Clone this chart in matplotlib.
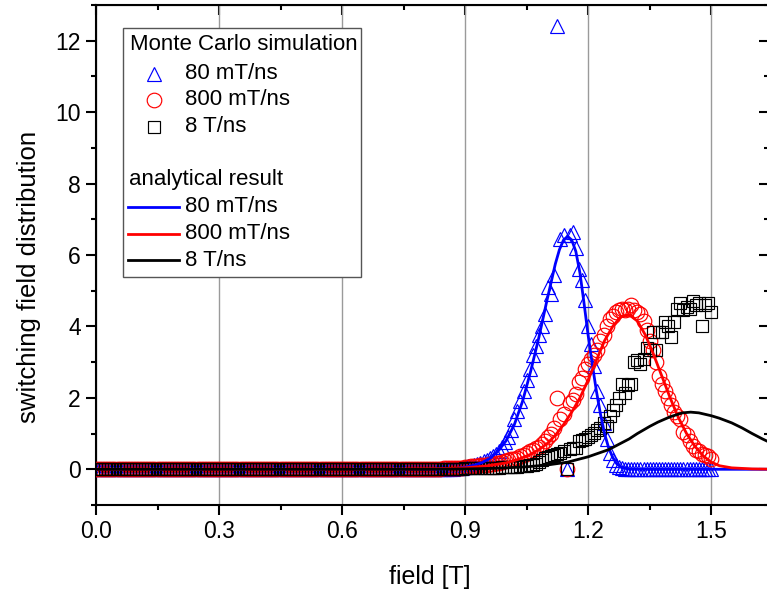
import numpy as np
import matplotlib
matplotlib.use("Agg")
import matplotlib.pyplot as plt
from matplotlib.lines import Line2D
from matplotlib.patches import Rectangle
from matplotlib.ticker import MultipleLocator

plt.rcParams['font.family'] = ['Liberation Sans', 'DejaVu Sans']

# ---------------- data ----------------
# Monte Carlo sampling grid (step read as ~7.5 mT from 0 to 1.5 T)
mc_step = 0.0075
n_base = 112                 # points 0 ... 0.8325 T sit at zero
mc_field = np.round(np.arange(0, 201) * mc_step, 4)

mc_80_tail = [0.0, 0.01, 0.01, 0.02, 0.02, 0.03, 0.04, 0.05, 0.06, 0.08,
              0.10, 0.12, 0.15, 0.18, 0.22, 0.26, 0.31, 0.37, 0.44, 0.52,
              0.62, 0.76, 0.90, 1.10, 1.40, 1.62, 1.90, 2.20, 2.50, 2.80,
              3.20, 3.45, 3.75, 4.00, 4.35, 5.10, 4.90, 5.45, 12.4, 6.45,
              6.55, 0.0, 6.55, 6.65, 6.20, 5.60, 5.30, 4.75, 4.00, 3.50,
              2.90, 2.20, 1.80, 1.30, 0.85, 0.45, 0.25, 0.12, 0.06, 0.03,
              0.02, 0.0, 0.0, 0.0, 0.0, 0.0, 0.0, 0.0, 0.0, 0.0,
              0.0, 0.0, 0.0, 0.0, 0.0, 0.0, 0.0, 0.0, 0.0, 0.0,
              0.0, 0.0, 0.0, 0.0, 0.0, 0.0, 0.0, 0.0, 0.0]

mc_800_tail = [0.02, 0.03, 0.03, 0.03, 0.04, 0.04, 0.05, 0.05, 0.06, 0.07,
               0.08, 0.09, 0.10, 0.11, 0.12, 0.13, 0.14, 0.15, 0.17, 0.18,
               0.20, 0.22, 0.25, 0.28, 0.30, 0.32, 0.36, 0.40, 0.45, 0.50,
               0.55, 0.60, 0.62, 0.70, 0.80, 0.90, 1.00, 1.15, 2.00, 1.40,
               1.55, 0.0, 1.85, 1.95, 2.10, 2.45, 2.55, 2.80, 2.95, 3.10,
               3.20, 3.35, 3.60, 3.75, 4.00, 4.20, 4.30, 4.40, 4.45, 4.50,
               4.45, 4.50, 4.60, 4.45, 4.40, 4.35, 4.15, 3.90, 3.60, 3.35,
               3.00, 2.60, 2.40, 2.20, 2.00, 1.80, 1.60, 1.50, 1.40, 1.05,
               0.95, 0.80, 0.65, 0.55, 0.50, 0.44, 0.40, 0.36, 0.30]

mc_8T_tail = [0.0, 0.01, 0.01, 0.01, 0.02, 0.02, 0.02, 0.02, 0.03, 0.03,
              0.03, 0.03, 0.04, 0.04, 0.04, 0.04, 0.05, 0.05, 0.05, 0.05,
              0.06, 0.06, 0.06, 0.06, 0.07, 0.07, 0.08, 0.09, 0.10, 0.11,
              0.13, 0.16, 0.20, 0.25, 0.32, 0.34, 0.37, 0.40, 0.42, 0.47,
              0.50, 0.0, 0.58, 0.60, 0.60, 0.78, 0.82, 0.85, 0.90, 0.97,
              1.02, 1.10, 1.15, 1.30, 1.20, 1.50, 1.65, 1.80, 2.00, 2.40,
              2.15, 2.35, 2.40, 3.00, 3.05, 2.95, 3.10, 3.40, 3.35, 3.85,
              3.35, 3.85, 3.85, 4.12, 4.00, 3.70, 4.12, 4.50, 4.65, 4.45,
              4.55, 4.50, 4.70, 4.60, 4.65, 4.00, 4.60, 4.65, 4.40]

mc_80 = np.array([0.0] * n_base + mc_80_tail)
mc_800 = np.array([0.0] * n_base + mc_800_tail)
mc_8T = np.array([0.0] * n_base + mc_8T_tail)

# analytical results
an_80_x = [0.0, 0.80, 0.85, 0.88, 0.90, 0.92, 0.94, 0.96, 0.98, 1.00, 1.02, 1.04,
           1.06, 1.08, 1.10, 1.12, 1.13, 1.14, 1.15, 1.16, 1.17, 1.18, 1.19,
           1.20, 1.21, 1.22, 1.23, 1.24, 1.25, 1.26, 1.27, 1.28, 1.30, 1.33, 1.66]
an_80_y = [0.0, 0.0, 0.01, 0.03, 0.06, 0.11, 0.18, 0.30, 0.50, 0.80, 1.25, 1.90,
           2.75, 3.70, 4.75, 5.75, 6.15, 6.42, 6.52, 6.42, 6.10, 5.50, 4.65,
           3.75, 2.95, 2.20, 1.55, 1.00, 0.60, 0.33, 0.15, 0.06, 0.01, 0.0, 0.0]

an_800_x = [0.0, 0.70, 0.80, 0.85, 0.90, 0.95, 1.00, 1.03, 1.06, 1.08, 1.10, 1.12,
            1.14, 1.16, 1.18, 1.20, 1.22, 1.24, 1.26, 1.28, 1.30, 1.32, 1.34,
            1.36, 1.38, 1.40, 1.42, 1.44, 1.46, 1.48, 1.50, 1.52, 1.55, 1.60, 1.66]
an_800_y = [0.0, 0.0, 0.01, 0.02, 0.04, 0.09, 0.18, 0.28, 0.42, 0.55, 0.72, 0.95,
            1.25, 1.60, 2.00, 2.50, 3.05, 3.60, 4.00, 4.28, 4.33, 4.15, 3.75,
            3.20, 2.60, 2.00, 1.45, 1.00, 0.65, 0.38, 0.20, 0.10, 0.04, 0.01, 0.0]

an_8T_x = [0.0, 0.80, 0.90, 0.95, 1.00, 1.05, 1.10, 1.15, 1.20, 1.25, 1.30, 1.32,
           1.35, 1.37, 1.40, 1.43, 1.45, 1.47, 1.50, 1.52, 1.55, 1.575, 1.60,
           1.625, 1.66]
an_8T_y = [0.0, 0.0, 0.01, 0.02, 0.04, 0.07, 0.12, 0.20, 0.35, 0.55, 0.85, 1.00,
           1.20, 1.32, 1.47, 1.58, 1.60, 1.58, 1.50, 1.43, 1.30, 1.16, 1.00,
           0.85, 0.66]

rate_labels = ["80 mT/ns", "800 mT/ns", "8 T/ns"]
x_ticks = [0.0, 0.3, 0.6, 0.9, 1.2, 1.5]
y_ticks = [0, 2, 4, 6, 8, 10, 12]

# ---------------- figure ----------------
fig = plt.figure(figsize=(7.67, 5.97), dpi=100)
ax = fig.add_axes([96 / 767, 1 - 505 / 597, (769 - 96) / 767, 500 / 597])

TRI = dict(marker='^', ms=10, mfc='none', mec='#0000FF', mew=0.85)
CIR = dict(marker='o', ms=10.5, mfc='none', mec='#FF0000', mew=0.85)
SQU = dict(marker='s', ms=8.5, mfc='none', mec='black', mew=0.85)

ax.plot(mc_field, mc_80, linestyle='none', zorder=3, **TRI)
ax.plot(mc_field, mc_800, linestyle='none', zorder=3, **CIR)
ax.plot(mc_field, mc_8T, linestyle='none', zorder=3, **SQU)

ax.plot(an_80_x, an_80_y, color='#0000FF', lw=2.0, zorder=4)
ax.plot(an_800_x, an_800_y, color='#FF0000', lw=2.0, zorder=4)
ax.plot(an_8T_x, an_8T_y, color='black', lw=2.0, zorder=4)

ax.set_xlim(0, 1.641)
ax.set_ylim(-1, 13)
ax.set_xticks(x_ticks)
ax.set_xticklabels([f"{v:.1f}" for v in x_ticks])
ax.set_yticks(y_ticks)
ax.xaxis.set_minor_locator(MultipleLocator(0.15))
ax.yaxis.set_minor_locator(MultipleLocator(1))

ax.grid(True, axis='x', which='major', color='#9a9a9a', lw=1.0, zorder=0)
ax.set_axisbelow(True)

for s in ax.spines.values():
    s.set_linewidth(1.5)

ax.tick_params(which='major', direction='out', length=7, width=1.5,
               labelsize=16.5, pad=4, top=False, right=False)
ax.tick_params(which='minor', direction='out', length=3.5, width=1.5,
               top=False, right=False)
# inward ticks on top and right
axt = ax.secondary_xaxis('top')
axt.set_xticks(x_ticks)
axt.xaxis.set_minor_locator(MultipleLocator(0.15))
axt.tick_params(which='major', direction='in', length=7, width=1.5, labeltop=False)
axt.tick_params(which='minor', direction='in', length=3.5, width=1.5)
axt.set_xticklabels([])
axr = ax.secondary_yaxis('right')
axr.set_yticks(y_ticks)
axr.yaxis.set_minor_locator(MultipleLocator(1))
axr.tick_params(which='major', direction='in', length=7, width=1.5)
axr.tick_params(which='minor', direction='in', length=3.5, width=1.5)
axr.set_yticklabels([])

ax.set_xlabel("field [T]", fontsize=18)
ax.xaxis.set_label_coords((430 - 96) / 673, (505 - 565) / 500)
ax.set_ylabel("switching field distribution", fontsize=18.5)
ax.yaxis.set_label_coords((41 - 96) / 673, (505 - 277) / 500)

# ---------------- legend box ----------------
T = ax.transAxes
ax.add_patch(Rectangle((0.040, 0.456), 0.354, 0.498, transform=T, fill=True,
                       facecolor='white', edgecolor='#555555', lw=1.0, zorder=6))
fs = 16
ax.text(0.0506, 0.92, "Monte Carlo simulation", transform=T, fontsize=fs,
        va='center', ha='left', zorder=7)
for spec, lab, yy in zip([TRI, CIR, SQU], rate_labels, [0.863, 0.811, 0.757]):
    ax.add_line(Line2D([0.0863], [yy], transform=T, linestyle='none', zorder=7, **spec))
    ax.text(0.1324, yy, lab, transform=T, fontsize=fs, va='center', ha='left', zorder=7)
ax.text(0.0496, 0.65, "analytical result", transform=T, fontsize=fs,
        va='center', ha='left', zorder=7)
for c, lab, yy in zip(['#0000FF', '#FF0000', 'black'], rate_labels, [0.597, 0.543, 0.49]):
    ax.add_line(Line2D([0.0476, 0.1235], [yy, yy], transform=T, color=c, lw=2.0, zorder=7))
    ax.text(0.1324, yy, lab, transform=T, fontsize=fs, va='center', ha='left', zorder=7)

fig.savefig("out.png", dpi=100)
